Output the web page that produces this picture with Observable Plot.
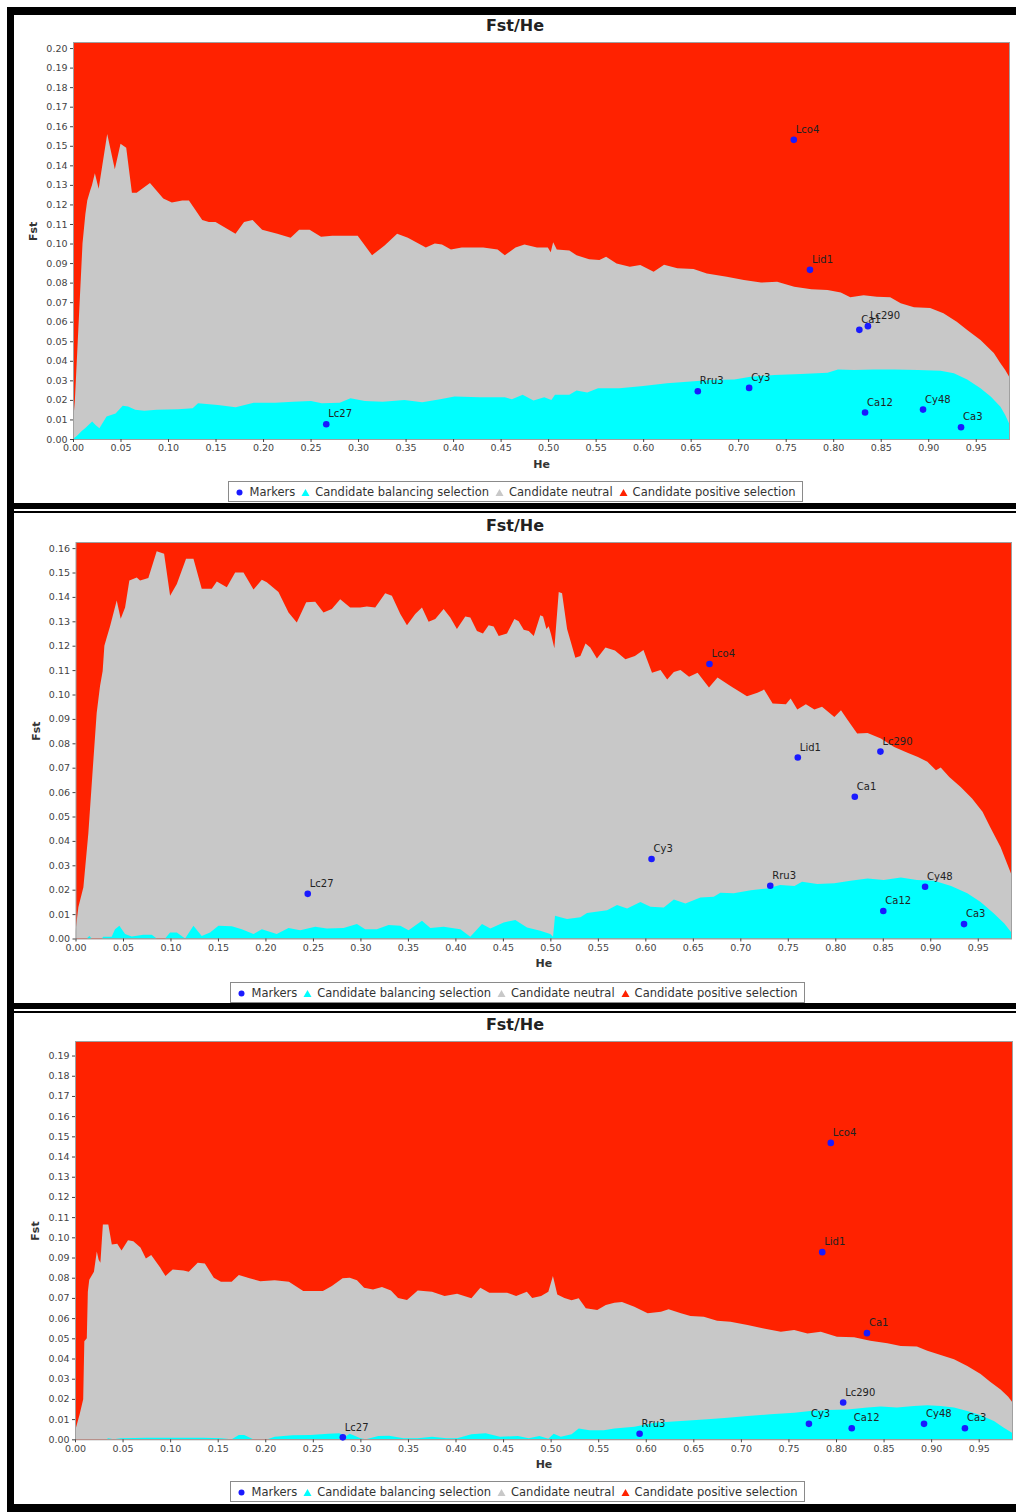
<!DOCTYPE html>
<html>
<head>
<meta charset="utf-8">
<script src="https://cdn.jsdelivr.net/npm/d3@7"></script>
<script src="https://cdn.jsdelivr.net/npm/@observablehq/plot@0.6"></script>
<style>
  html, body { margin: 0; padding: 0; background: #fff; }
  body { width: 1016px; height: 1512px; position: relative; overflow: hidden;
         font-family: "DejaVu Sans", "Lucida Grande", sans-serif; }
  .bar { position: absolute; background: #000; }
  .title { position: absolute; left: 14px; width: 1002px; text-align: center;
           font-weight: bold; font-size: 16px; line-height: 20px; height: 20px; color: #222; }
  .chart { position: absolute; left: 0; }
  .legend { position: absolute; box-sizing: border-box; height: 21px; border: 1px solid #8a8a8a;
            background: #fff; display: flex; align-items: center; justify-content: center;
            font-size: 11.5px; color: #333; white-space: nowrap; }
  .legend svg { display: block; margin-right: 5px; }
  .legend span { margin-right: 6px; }
  .legend span:last-child { margin-right: 0; }
</style>
</head>
<body>
<script>
// ---------------------------------------------------------------
// Data: Fst / He outlier test, three runs of the same marker set
// ---------------------------------------------------------------

const markerNames = ["Lco4", "Lid1", "Ca1", "Lc290", "Rru3", "Cy3", "Ca12", "Cy48", "Ca3", "Lc27"];

// tick labels
const heTicks = [0.00, 0.05, 0.10, 0.15, 0.20, 0.25, 0.30, 0.35, 0.40, 0.45,
                 0.50, 0.55, 0.60, 0.65, 0.70, 0.75, 0.80, 0.85, 0.90, 0.95];
const fstTicks1 = [0.00, 0.01, 0.02, 0.03, 0.04, 0.05, 0.06, 0.07, 0.08, 0.09, 0.10,
                   0.11, 0.12, 0.13, 0.14, 0.15, 0.16, 0.17, 0.18, 0.19, 0.20];
const fstTicks2 = [0.00, 0.01, 0.02, 0.03, 0.04, 0.05, 0.06, 0.07, 0.08, 0.09, 0.10,
                   0.11, 0.12, 0.13, 0.14, 0.15, 0.16];
const fstTicks3 = [0.00, 0.01, 0.02, 0.03, 0.04, 0.05, 0.06, 0.07, 0.08, 0.09, 0.10,
                   0.11, 0.12, 0.13, 0.14, 0.15, 0.16, 0.17, 0.18, 0.19];

// ---- run 1 ----
// upper limit of the neutral envelope [He, Fst]
const neutral1 = [
  [0.000,0.008],[0.002,0.020],[0.005,0.050],[0.008,0.080],[0.010,0.100],[0.013,0.115],[0.015,0.122],
  [0.018,0.127],[0.020,0.130],[0.023,0.136],[0.027,0.128],[0.036,0.156],[0.044,0.138],[0.050,0.151],
  [0.056,0.149],[0.062,0.126],[0.067,0.126],[0.081,0.131],[0.095,0.123],[0.104,0.121],[0.115,0.122],
  [0.122,0.122],[0.136,0.112],[0.143,0.111],[0.150,0.111],[0.171,0.105],[0.180,0.111],[0.189,0.112],
  [0.199,0.107],[0.215,0.105],[0.229,0.103],[0.238,0.107],[0.249,0.107],[0.261,0.1035],[0.273,0.104],
  [0.2996,0.104],[0.3147,0.094],[0.3279,0.099],[0.3411,0.105],[0.3524,0.103],[0.3713,0.098],
  [0.3807,0.100],[0.3883,0.0995],[0.3977,0.097],[0.4091,0.098],[0.4317,0.098],[0.4468,0.097],
  [0.4544,0.094],[0.4657,0.098],[0.4751,0.0995],[0.4883,0.098],[0.4997,0.098],[0.5027,0.0956],
  [0.5053,0.1007],[0.5091,0.097],[0.5223,0.0964],[0.5299,0.094],[0.5431,0.092],[0.554,0.0916],
  [0.561,0.0933],[0.572,0.0898],[0.586,0.0881],[0.597,0.089],[0.611,0.0856],[0.622,0.0892],
  [0.636,0.0873],[0.653,0.087],[0.667,0.0847],[0.688,0.083],[0.706,0.0813],[0.724,0.080],
  [0.741,0.0805],[0.759,0.0779],[0.777,0.0766],[0.794,0.0762],[0.808,0.075],[0.818,0.0725],
  [0.832,0.0736],[0.846,0.0728],[0.860,0.0725],[0.871,0.0694],[0.885,0.0674],[0.902,0.067],
  [0.916,0.0643],[0.930,0.060],[0.941,0.0557],[0.955,0.0506],[0.969,0.044],[0.976,0.0387],
  [0.981,0.0353],[0.985,0.032]
];
// lower limit of the neutral envelope [He, Fst]
const balancing1 = [
  [0.000,0.000],[0.0051,0.002],[0.0089,0.004],[0.0127,0.0055],[0.0202,0.009],[0.024,0.007],
  [0.0278,0.0055],[0.0353,0.0115],[0.0448,0.013],[0.0523,0.017],[0.058,0.0166],[0.0655,0.015],
  [0.075,0.0144],[0.0882,0.015],[0.1108,0.0152],[0.1259,0.0157],[0.1316,0.0183],[0.1524,0.0174],
  [0.1712,0.0162],[0.1901,0.0186],[0.2128,0.0186],[0.2316,0.019],[0.2505,0.0195],[0.2618,0.0183],
  [0.2807,0.0186],[0.292,0.0209],[0.3071,0.0195],[0.326,0.019],[0.3487,0.020],[0.3675,0.0188],
  [0.3864,0.0203],[0.4015,0.0217],[0.4279,0.0214],[0.4544,0.0214],[0.4619,0.0203],[0.4732,0.0226],
  [0.4846,0.0197],[0.4959,0.0214],[0.5034,0.020],[0.5072,0.0226],[0.5223,0.0226],[0.5299,0.0248],
  [0.5412,0.0238],[0.5525,0.026],[0.575,0.0259],[0.600,0.0271],[0.625,0.0285],[0.650,0.0294],
  [0.671,0.0302],[0.696,0.0305],[0.713,0.0319],[0.738,0.0327],[0.766,0.0332],[0.794,0.0339],
  [0.805,0.0356],[0.822,0.0353],[0.843,0.0356],[0.864,0.0356],[0.889,0.0353],[0.913,0.0349],
  [0.927,0.0336],[0.941,0.0305],[0.955,0.0259],[0.966,0.0216],[0.976,0.0165],[0.981,0.0123],
  [0.985,0.008]
];
const markerHe1  = [0.758, 0.775, 0.827, 0.836, 0.657, 0.711, 0.833, 0.894, 0.934, 0.266];
const markerFst1 = [0.1533, 0.0868, 0.0561, 0.0580, 0.0247, 0.0264, 0.0138, 0.0153, 0.0063, 0.0078];

// ---- run 2 ----
const neutral2 = [
  [0.000,0.003],[0.003,0.0128],[0.0083,0.021],[0.0135,0.043],[0.0188,0.073],[0.0223,0.0924],
  [0.0258,0.1034],[0.0286,0.1096],[0.0304,0.120],[0.0328,0.1233],[0.0364,0.128],[0.0434,0.1385],
  [0.0476,0.131],[0.0522,0.1357],[0.0567,0.1467],[0.0645,0.148],[0.068,0.1467],[0.0767,0.1477],
  [0.0855,0.1587],[0.0933,0.1577],[0.0996,0.1405],[0.1067,0.1453],[0.1164,0.1556],[0.1242,0.1556],
  [0.1329,0.1433],[0.1435,0.1433],[0.1488,0.1463],[0.1593,0.144],[0.1681,0.150],[0.1769,0.150],
  [0.1874,0.143],[0.1962,0.147],[0.2014,0.146],[0.2137,0.142],[0.2243,0.1336],[0.233,0.1295],
  [0.2429,0.1378],[0.2524,0.138],[0.2611,0.1336],[0.2699,0.135],[0.2787,0.139],[0.2892,0.1357],
  [0.2998,0.1357],[0.3068,0.1361],[0.3156,0.1357],[0.3261,0.1415],[0.3331,0.1405],[0.342,0.133],
  [0.349,0.1284],[0.3577,0.133],[0.3648,0.1357],[0.3718,0.1298],[0.3788,0.1309],[0.3876,0.135],
  [0.3946,0.1316],[0.4016,0.1268],[0.4104,0.132],[0.4157,0.1316],[0.4227,0.126],[0.429,0.125],
  [0.435,0.1284],[0.4403,0.1279],[0.4456,0.124],[0.4543,0.125],[0.4621,0.1309],[0.4666,0.130],
  [0.4719,0.1265],[0.4772,0.126],[0.4825,0.124],[0.4894,0.1325],[0.4923,0.132],[0.4958,0.1268],
  [0.4982,0.128],[0.5007,0.1247],[0.5042,0.119],[0.5088,0.142],[0.5123,0.1415],[0.5176,0.1268],
  [0.5263,0.1151],[0.5316,0.1158],[0.537,0.1209],[0.542,0.1193],[0.549,0.1148],[0.558,0.1193],
  [0.568,0.118],[0.579,0.1144],[0.589,0.1158],[0.598,0.1182],[0.607,0.1089],[0.616,0.110],
  [0.623,0.1061],[0.630,0.1092],[0.637,0.110],[0.646,0.1073],[0.655,0.1089],[0.667,0.1029],
  [0.676,0.107],[0.690,0.1034],[0.707,0.0993],[0.718,0.1007],[0.725,0.102],[0.734,0.0963],
  [0.748,0.096],[0.753,0.0984],[0.760,0.0939],[0.769,0.096],[0.778,0.0939],[0.786,0.095],
  [0.799,0.0908],[0.806,0.0935],[0.813,0.0895],[0.823,0.084],[0.834,0.0842],[0.848,0.082],
  [0.862,0.0785],[0.876,0.0761],[0.887,0.0744],[0.897,0.0724],[0.906,0.069],[0.911,0.0701],
  [0.920,0.0662],[0.932,0.0621],[0.944,0.0574],[0.955,0.0519],[0.963,0.0457],[0.974,0.0375],
  [0.985,0.0266]
];
const balancing2 = [
  [0.000,0.000],[0.0118,0.000],[0.0146,0.001],[0.017,0.000],[0.0276,0.000],[0.0293,0.0007],
  [0.0381,0.0007],[0.0416,0.0038],[0.0462,0.0052],[0.0522,0.0018],[0.0592,0.0008],[0.0715,0.0015],
  [0.0803,0.0015],[0.0855,0.000],[0.0943,0.000],[0.0996,0.0025],[0.1067,0.0025],[0.1154,0.000],
  [0.1242,0.0052],[0.1329,0.001],[0.1417,0.0025],[0.1505,0.0052],[0.1646,0.005],[0.1751,0.0038],
  [0.1874,0.0018],[0.1962,0.0038],[0.2119,0.0018],[0.2243,0.0043],[0.2366,0.0034],[0.2524,0.0048],
  [0.2647,0.0041],[0.2822,0.0043],[0.2963,0.0059],[0.305,0.0038],[0.3173,0.0038],[0.3296,0.0055],
  [0.342,0.0052],[0.3507,0.0034],[0.3648,0.0073],[0.3736,0.0043],[0.3876,0.0048],[0.4052,0.0038],
  [0.4157,0.0007],[0.428,0.0059],[0.4368,0.0041],[0.4508,0.0066],[0.4631,0.0076],[0.4754,0.0045],
  [0.4894,0.0032],[0.4999,0.0018],[0.5028,0.0007],[0.5049,0.0093],[0.5105,0.0087],[0.5176,0.008],
  [0.5316,0.0087],[0.5386,0.0105],[0.5597,0.0116],[0.5702,0.0137],[0.5808,0.0123],[0.5948,0.015],
  [0.6054,0.013],[0.6194,0.0127],[0.630,0.016],[0.6422,0.0143],[0.658,0.0168],[0.672,0.0171],
  [0.679,0.0187],[0.693,0.0185],[0.711,0.0198],[0.728,0.0205],[0.742,0.0219],[0.757,0.0215],
  [0.765,0.0233],[0.781,0.0223],[0.799,0.0226],[0.816,0.0237],[0.834,0.0246],[0.851,0.024],
  [0.869,0.025],[0.886,0.024],[0.904,0.0237],[0.922,0.0215],[0.939,0.0185],[0.953,0.015],
  [0.967,0.0102],[0.978,0.0061],[0.985,0.0027]
];
const markerHe2  = [0.667, 0.760, 0.820, 0.847, 0.731, 0.606, 0.850, 0.894, 0.935, 0.244];
const markerFst2 = [0.1127, 0.0744, 0.0583, 0.0768, 0.0218, 0.0328, 0.0115, 0.0214, 0.0061, 0.0185];

// ---- run 3 ----
const neutral3 = [
  [0.000,0.004],[0.0049,0.0124],[0.0086,0.0198],[0.0098,0.0486],[0.0124,0.050],[0.0135,0.073],
  [0.015,0.079],[0.0199,0.083],[0.0229,0.093],[0.0248,0.089],[0.0267,0.0874],[0.0293,0.1064],
  [0.035,0.1064],[0.0387,0.0965],[0.0444,0.0968],[0.0489,0.0935],[0.0557,0.0985],[0.0613,0.098],
  [0.0688,0.095],[0.0745,0.0895],[0.0801,0.0912],[0.0895,0.085],[0.0951,0.0808],[0.1027,0.0841],
  [0.114,0.0836],[0.1196,0.083],[0.129,0.0874],[0.1365,0.087],[0.1459,0.080],[0.1534,0.078],
  [0.1647,0.078],[0.1722,0.0813],[0.1835,0.0797],[0.1948,0.0783],[0.2099,0.0788],[0.2249,0.078],
  [0.2399,0.0734],[0.2606,0.0734],[0.270,0.0759],[0.2813,0.0797],[0.2888,0.080],[0.2964,0.0787],
  [0.3039,0.075],[0.3133,0.0742],[0.3227,0.0754],[0.3321,0.0737],[0.3396,0.070],[0.349,0.069],
  [0.3603,0.0737],[0.3753,0.073],[0.3885,0.0709],[0.4017,0.072],[0.4167,0.0698],[0.4261,0.075],
  [0.4355,0.0726],[0.4543,0.0726],[0.4637,0.0709],[0.475,0.073],[0.4806,0.070],[0.490,0.0709],
  [0.4976,0.073],[0.5024,0.0808],[0.507,0.0717],[0.5145,0.070],[0.522,0.0688],[0.5295,0.0698],
  [0.537,0.0649],[0.549,0.064],[0.558,0.0665],[0.567,0.0676],[0.575,0.068],[0.588,0.0656],
  [0.602,0.0624],[0.616,0.0632],[0.624,0.0644],[0.637,0.0624],[0.647,0.061],[0.661,0.0607],
  [0.675,0.0587],[0.689,0.0582],[0.707,0.0566],[0.724,0.0549],[0.742,0.0533],[0.756,0.0541],
  [0.770,0.0524],[0.784,0.0533],[0.801,0.0508],[0.819,0.0505],[0.836,0.0488],[0.854,0.0475],
  [0.868,0.0462],[0.885,0.0459],[0.896,0.0439],[0.910,0.0417],[0.924,0.0396],[0.938,0.0363],
  [0.952,0.0323],[0.962,0.0285],[0.973,0.0247],[0.981,0.0211],[0.985,0.0186]
];
const balancing3 = [
  [0.000,0.000],[0.0331,0.000],[0.035,0.0005],[0.0406,0.000],[0.0481,0.0005],[0.0763,0.0008],
  [0.0933,0.0008],[0.1158,0.0008],[0.1346,0.0008],[0.1534,0.0005],[0.1647,0.000],[0.1722,0.0021],
  [0.1779,0.0021],[0.1873,0.000],[0.2023,0.000],[0.2099,0.0012],[0.2287,0.002],[0.2475,0.0021],
  [0.2663,0.0028],[0.2776,0.003],[0.2851,0.0016],[0.2888,0.0028],[0.3001,0.0005],[0.3058,0.000],
  [0.3189,0.0016],[0.3302,0.0018],[0.3452,0.0005],[0.3603,0.0005],[0.3753,0.0013],[0.3904,0.0005],
  [0.4017,0.0005],[0.4167,0.0025],[0.4317,0.003],[0.4468,0.0013],[0.4656,0.0016],[0.4769,0.0005],
  [0.4882,0.0016],[0.4976,0.0003],[0.5032,0.0028],[0.5107,0.0013],[0.522,0.0025],[0.5295,0.0053],
  [0.5408,0.0045],[0.5559,0.0045],[0.567,0.0054],[0.588,0.0062],[0.609,0.0082],[0.637,0.0091],
  [0.665,0.0099],[0.686,0.0107],[0.707,0.0115],[0.731,0.0124],[0.756,0.0132],[0.773,0.014],
  [0.791,0.0145],[0.812,0.0148],[0.833,0.0157],[0.847,0.0162],[0.864,0.0157],[0.882,0.0165],
  [0.896,0.0168],[0.910,0.0165],[0.924,0.0157],[0.938,0.014],[0.952,0.0119],[0.966,0.0091],
  [0.976,0.0058],[0.985,0.0033]
];
const markerHe3  = [0.794, 0.785, 0.832, 0.807, 0.593, 0.771, 0.816, 0.892, 0.935, 0.281];
const markerFst3 = [0.147, 0.0929, 0.0528, 0.0185, 0.0030, 0.0079, 0.0057, 0.0079, 0.0057, 0.0012];

// legend entries
const legendLabels = ["Markers", "Candidate balancing selection", "Candidate neutral", "Candidate positive selection"];

// ---------------------------------------------------------------
// Styling and page layout
// ---------------------------------------------------------------
const colors = { positive: "#ff2200", neutral: "#c8c8c8", balancing: "#00ffff", marker: "#1a1aff" };
const legendShapes = ["circle", "triangle", "triangle", "triangle"];
const legendColors = [colors.marker, colors.balancing, colors.neutral, colors.positive];

const panels = [
  { neutral: neutral1, balancing: balancing1, he: markerHe1, fst: markerFst1, fstTicks: fstTicks1,
    fstMax: 0.2031, titleY: 26, plotTop: 42, plotBottom: 439, left: 73, right: 1009, legendTop: 481, legendLeft: 228 },
  { neutral: neutral2, balancing: balancing2, he: markerHe2, fst: markerFst2, fstTicks: fstTicks2,
    fstMax: 0.1625, titleY: 526, plotTop: 542, plotBottom: 938.5, left: 75.5, right: 1011, legendTop: 982, legendLeft: 230 },
  { neutral: neutral3, balancing: balancing3, he: markerHe3, fst: markerFst3, fstTicks: fstTicks3,
    fstMax: 0.1972, titleY: 1025, plotTop: 1041, plotBottom: 1439.3, left: 75, right: 1012, legendTop: 1481, legendLeft: 230 }
];

// black frame lines around and between the three panels
const bars = [
  [7, 7, 1009, 8], [7, 7, 7, 1505],
  [7, 503, 1009, 6], [7, 511, 1009, 2],
  [7, 1003, 1009, 6], [7, 1011, 1009, 2],
  [7, 1504, 1009, 8]
];
for (const [x, y, w, h] of bars) {
  const d = document.createElement("div");
  d.className = "bar";
  Object.assign(d.style, { left: x + "px", top: y + "px", width: w + "px", height: h + "px" });
  document.body.appendChild(d);
}

const MARGIN_TOP = 12, MARGIN_BOTTOM = 40, WIDTH = 1016;

function legendIcon(shape, color) {
  const ns = "http://www.w3.org/2000/svg";
  const svg = document.createElementNS(ns, "svg");
  svg.setAttribute("width", 9);
  svg.setAttribute("height", 8);
  let el;
  if (shape === "circle") {
    el = document.createElementNS(ns, "circle");
    el.setAttribute("cx", 4.5); el.setAttribute("cy", 4.5); el.setAttribute("r", 3);
  } else {
    el = document.createElementNS(ns, "path");
    el.setAttribute("d", "M4.5,1L8.5,8L0.5,8Z");
  }
  el.setAttribute("fill", color);
  svg.appendChild(el);
  return svg;
}

for (const p of panels) {
  const markers = markerNames.map((name, i) => ({ name, he: p.he[i], fst: p.fst[i] }));
  const svgTop = p.plotTop - MARGIN_TOP;

  const chart = Plot.plot({
    width: WIDTH,
    height: p.plotBottom - svgTop + MARGIN_BOTTOM,
    marginTop: MARGIN_TOP,
    marginBottom: MARGIN_BOTTOM,
    marginLeft: p.left,
    marginRight: WIDTH - p.right,
    style: { fontFamily: "DejaVu Sans, sans-serif", fontSize: "9.5px", color: "#444", background: "transparent", overflow: "visible" },
    x: { domain: [0, 0.985] },
    y: { domain: [0, p.fstMax] },
    marks: [
      // outside the envelope: candidate positive selection
      Plot.frame({ fill: colors.positive, stroke: null }),
      // inside the envelope: candidate neutral
      Plot.areaY(p.neutral, { x: d => d[0], y1: 0, y2: d => d[1], fill: colors.neutral }),
      // below the envelope: candidate balancing selection
      Plot.areaY(p.balancing, { x: d => d[0], y1: 0, y2: d => d[1], fill: colors.balancing }),
      Plot.frame({ stroke: "#a0a0a0", strokeWidth: 1 }),
      Plot.axisX({ ticks: heTicks, tickFormat: ".2f", tickSize: 3, tickPadding: 2, label: null }),
      Plot.axisY({ ticks: p.fstTicks, tickFormat: ".2f", tickSize: 3, tickPadding: 3, label: null }),
      Plot.text(["He"], { frameAnchor: "bottom", dy: 28, fontSize: 11, fontWeight: "bold", fill: "#333" }),
      Plot.text(["Fst"], { frameAnchor: "left", dx: -40, rotate: -90, fontSize: 11, fontWeight: "bold", fill: "#333" }),
      Plot.dot(markers, { x: "he", y: "fst", r: 3.3, fill: colors.marker, stroke: null }),
      Plot.text(markers, { x: "he", y: "fst", text: "name", dx: 2, dy: -10, textAnchor: "start", fontSize: 10, fill: "#222" })
    ]
  });
  chart.classList.add("chart");
  chart.style.top = svgTop + "px";
  document.body.appendChild(chart);

  const title = document.createElement("div");
  title.className = "title";
  title.style.top = (p.titleY - 10) + "px";
  title.textContent = "Fst/He";
  document.body.appendChild(title);

  const legend = document.createElement("div");
  legend.className = "legend";
  legend.style.top = p.legendTop + "px";
  legend.style.left = p.legendLeft + "px";
  legend.style.width = "575px";
  legendLabels.forEach((label, i) => {
    legend.appendChild(legendIcon(legendShapes[i], legendColors[i]));
    const s = document.createElement("span");
    s.textContent = label;
    legend.appendChild(s);
  });
  document.body.appendChild(legend);
}
</script>
</body>
</html>
